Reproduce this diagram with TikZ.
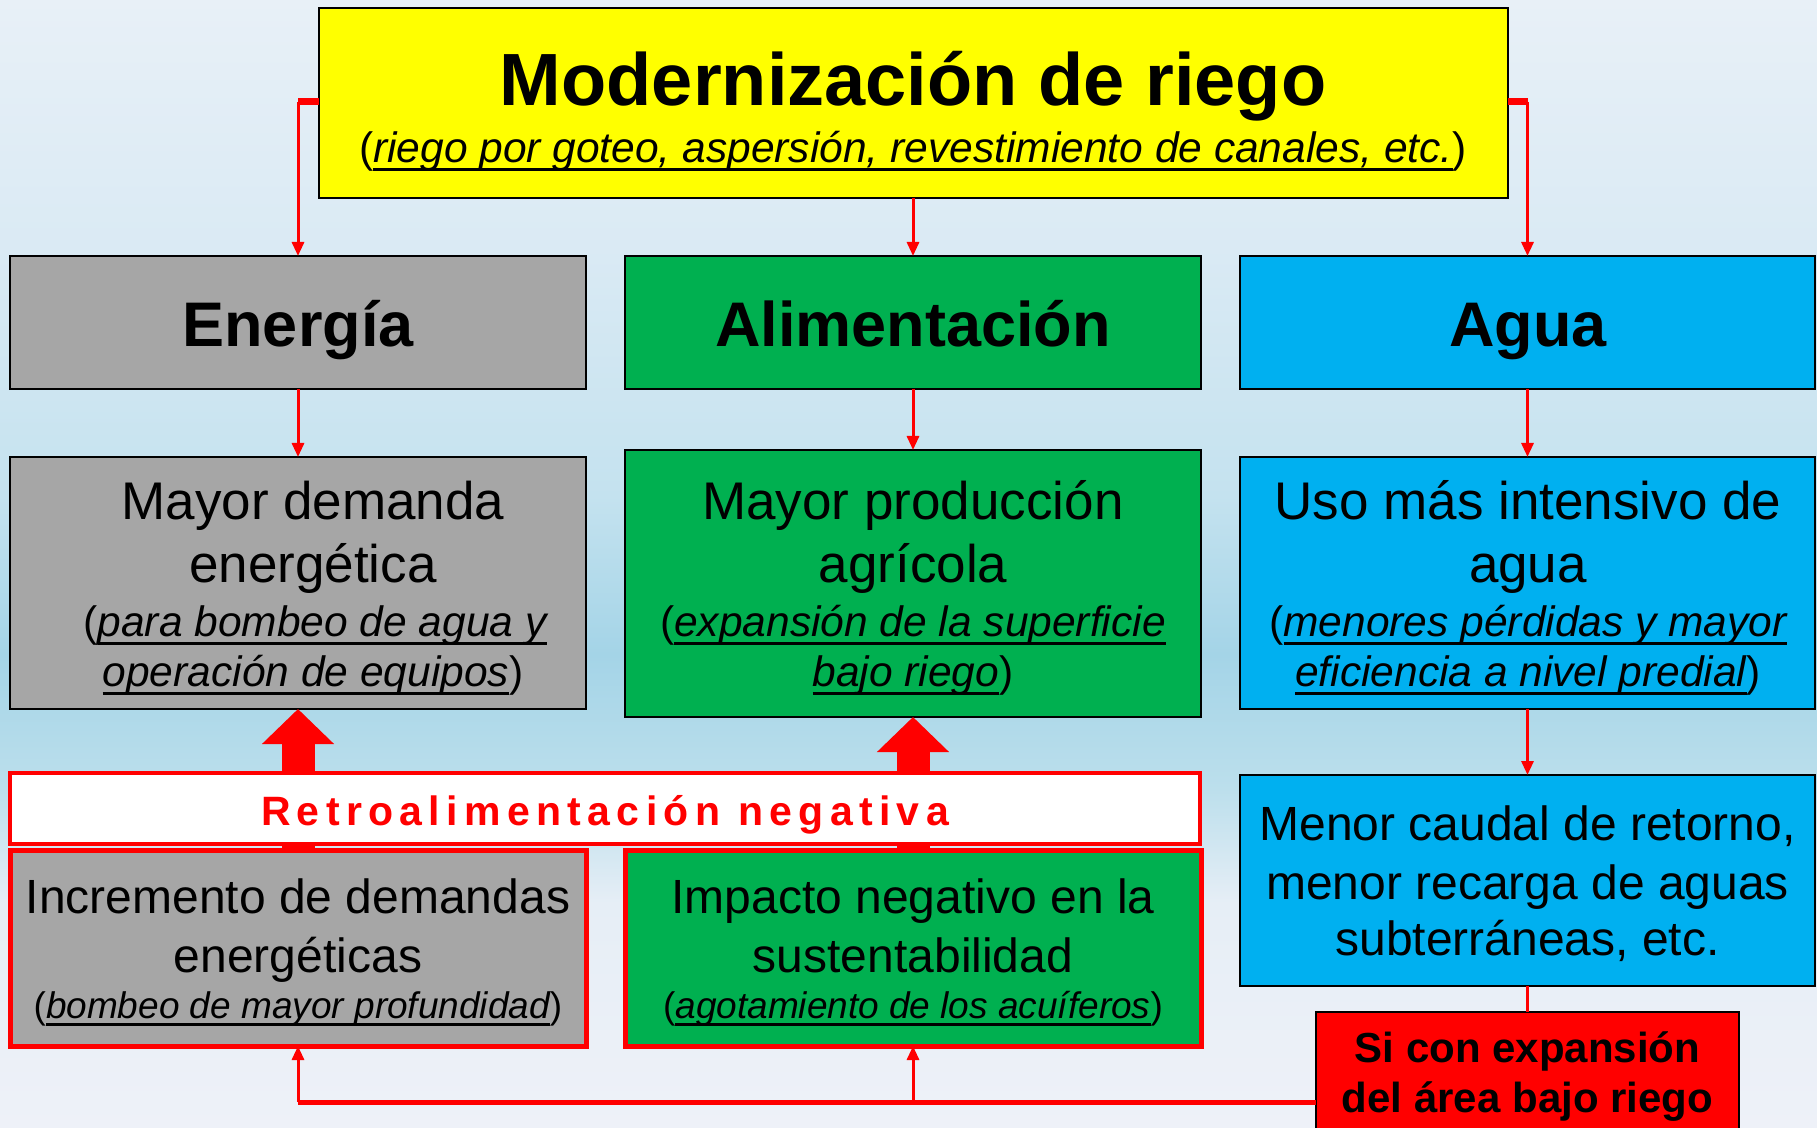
\documentclass[tikz,border=0pt]{standalone}
\usepackage{fontspec}
\setmainfont{Liberation Sans}
\usetikzlibrary{arrows.meta}
\definecolor{ygold}{HTML}{FFFF00}
\definecolor{bgray}{HTML}{A6A6A6}
\definecolor{bgreen}{HTML}{00B050}
\definecolor{bblue}{HTML}{00B0F0}
\definecolor{ared}{HTML}{FF0000}
\definecolor{bgA}{HTML}{EEF1F8}
\definecolor{bgB}{HTML}{E6EEF6}
\definecolor{bgC}{HTML}{BCDFEC}
\definecolor{bgD}{HTML}{A4D4E7}
\definecolor{bgE}{HTML}{C4E2EF}
\definecolor{bgF}{HTML}{DAEAF4}
\definecolor{bgG}{HTML}{E8F0F7}
\pgfdeclareverticalshading{bgshade}{100bp}{color(0bp)=(bgA); color(25bp)=(bgA); color(35bp)=(bgB); color(40bp)=(bgC); color(46bp)=(bgD); color(53bp)=(bgE); color(64bp)=(bgF); color(75bp)=(bgG); color(100bp)=(bgG)}
\newcommand\fs[1]{\fontsize{#1}{#1}\selectfont}
\newcommand\myul[1]{\setbox0=\hbox{#1}\rlap{\rule[-3.8pt]{\wd0}{1.4pt}}\box0}
\begin{document}
\begin{tikzpicture}[x=0.5pt,y=-0.5pt,
  box/.style={rectangle, draw=black, line width=1pt, inner sep=0pt, outer sep=0pt},
  redbox/.style={rectangle, draw=ared, line width=2.5pt, inner sep=0pt, outer sep=0pt},
  txt/.style={inner sep=0pt, anchor=base},
  conn/.style={draw=ared, line width=1.5pt, -{Triangle[length=7pt 0,width=6pt 0]}},
  fat/.style={draw=ared, line width=16.5pt, -{Triangle[length=17.5pt 0,width=35pt 0]}}]
\clip (0,0) rectangle (1817,1128);
\shade[shading=bgshade] (0,0) rectangle (1817,1128);
% boxes
\node[box, fill=ygold, minimum width=594.5pt, minimum height=95pt] (title) at (913.5,103) {};
\node[box, fill=bgray, minimum width=288pt, minimum height=66.5pt] (ene1) at (298,322.5) {};
\node[box, fill=bgreen, minimum width=288pt, minimum height=66.5pt] (ali1) at (913,322.5) {};
\node[box, fill=bblue, minimum width=287.5pt, minimum height=66.5pt] (agu1) at (1527.5,322.5) {};
\node[box, fill=bgray, minimum width=288pt, minimum height=126pt] (ene2) at (298,583) {};
\node[box, fill=bgreen, minimum width=288pt, minimum height=133.5pt] (ali2) at (913,583.5) {};
\node[box, fill=bblue, minimum width=287.5pt, minimum height=126pt] (agu2) at (1527.5,583) {};
\node[redbox, fill=bgray, minimum width=288pt, minimum height=98pt] (inc) at (298,948) {};
\node[redbox, fill=bgreen, minimum width=288pt, minimum height=98pt] (imp) at (913,948) {};
\node[box, fill=bblue, minimum width=287.5pt, minimum height=105.5pt] (men) at (1527.5,880.5) {};
\node[box, fill=ared, minimum width=211.5pt, minimum height=69pt] (si) at (1527.5,1081) {};
% fat feedback arrows
\draw[fat] (inc.north) -- (ene2.south);
\draw[fat] (imp.north) -- (ali2.south);
\node[rectangle, draw=ared, line width=2pt, fill=white, inner sep=0pt, minimum width=595pt, minimum height=35.5pt] (retro) at (605,808.5) {};
% connectors
\coordinate (tl) at (0,102);
\coordinate (bline) at (0,1102);
\draw[ared, line width=3.5pt] (ene1.north |- tl) -- (title.west |- tl);
\draw[ared, line width=3.5pt] (title.east |- tl) -- (agu1.north |- tl);
\draw[conn] (ene1.north |- tl) -- (ene1.north);
\draw[conn] (agu1.north |- tl) -- (agu1.north);
\draw[conn] (ali1.north |- title.south) -- (ali1.north);
\draw[conn] (ene1.south) -- (ene2.north);
\draw[conn] (ali1.south) -- (ali2.north);
\draw[conn] (agu1.south) -- (agu2.north);
\draw[conn] (agu2.south) -- (men.north);
\draw[ared, line width=1.5pt] (men.south) -- (si.north);
\draw[ared, line width=2.5pt] (si.west |- bline) -- (inc.south |- bline);
\draw[conn] (inc.south |- bline) -- (inc.south);
\draw[conn] (imp.south |- bline) -- (imp.south);
% texts
\node[txt] (t1) at (913,106) {\fs{37}\bfseries Modernización de riego};
\node[txt] (t2) at (913,163) {\fs{21.25}(\textit{\myul{riego por goteo, aspersión, revestimiento de canales, etc.}})};
\node[txt] (e1) at (298,347) {\fs{31.5}\bfseries Energía};
\node[txt] (a1) at (913,347) {\fs{31.5}\bfseries Alimentación};
\node[txt] (g1) at (1528,347) {\fs{31.5}\bfseries Agua};
\node[txt] (e2a) at (313,520) {\fs{26.5}Mayor demanda};
\node[txt] (e2b) at (313,583) {\fs{26.5}energética};
\node[txt] (e2c) at (315,637) {\fs{21.25}(\textit{\myul{para bombeo de agua y}}};
\node[txt] (e2d) at (313,687) {\fs{21.25}\textit{\myul{operación de equipos}})};
\node[txt] (a2a) at (913,520) {\fs{26.5}Mayor producción};
\node[txt] (a2b) at (913,583) {\fs{26.5}agrícola};
\node[txt] (a2c) at (913,637) {\fs{21.25}(\textit{\myul{expansión de la superficie}}};
\node[txt] (a2d) at (913,687) {\fs{21.25}\textit{\myul{bajo riego}})};
\node[txt] (g2a) at (1528,520) {\fs{26.5}Uso más intensivo de};
\node[txt] (g2b) at (1528,583) {\fs{26.5}agua};
\node[txt] (g2c) at (1528,637) {\fs{21.25}(\textit{\myul{menores pérdidas y mayor}}};
\node[txt] (g2d) at (1528,687) {\fs{21.25}\textit{\myul{eficiencia a nivel predial}})};
\node[txt, text=ared] (rt) at (605,825) {\fs{20.5}\bfseries\addfontfeature{LetterSpace=15.5}Retroalimentación negativa};
\node[txt] (i1) at (298,913) {\fs{24}Incremento de demandas};
\node[txt] (i2) at (298,972) {\fs{24}energéticas};
\node[txt] (i3) at (298,1018) {\fs{18.5}(\textit{\myul{bombeo de mayor profundidad}})};
\node[txt] (p1) at (913,913) {\fs{24}Impacto negativo en la};
\node[txt] (p2) at (913,972) {\fs{24}sustentabilidad};
\node[txt] (p3) at (913,1018) {\fs{18.5}(\textit{\myul{agotamiento de los acuíferos}})};
\node[txt] (m1) at (1527.5,840) {\fs{24}Menor caudal de retorno,};
\node[txt] (m2) at (1527.5,899) {\fs{24}menor recarga de aguas};
\node[txt] (m3) at (1527.5,955) {\fs{24}subterráneas, etc.};
\node[txt] (s1) at (1527.5,1062) {\fs{21}\bfseries Si con expansión};
\node[txt] (s2) at (1527.5,1112) {\fs{21}\bfseries del área bajo riego};
\end{tikzpicture}
\end{document}
